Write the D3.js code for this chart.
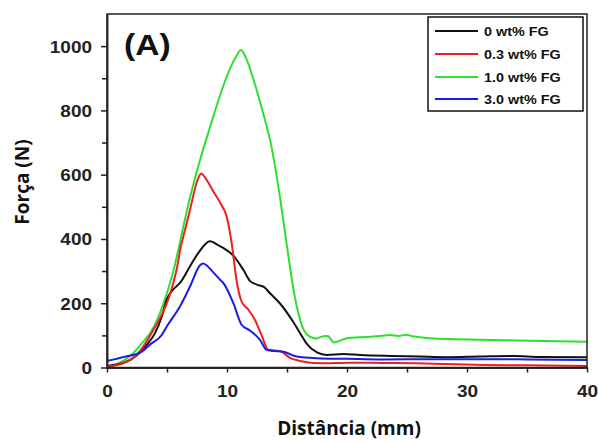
<!DOCTYPE html>
<html>
<head>
<meta charset="utf-8">
<script src="https://cdn.jsdelivr.net/npm/d3@7"></script>
<style>
  html, body { margin: 0; padding: 0; background: #fff; }
  svg { display: block; }
</style>
</head>
<body>
<svg id="chart" width="598" height="442"></svg>
<script>
// Force (N) vs. distance (mm) for four FG loadings
const seriesNames = ["0 wt% FG", "0.3 wt% FG", "1.0 wt% FG", "3.0 wt% FG"];
const seriesColors = ["#111111", "#f01e1e", "#2ee02e", "#1c1ce6"];

const fg0 = [[0,5],[1.3,13],[2.5,38],[3.3,70],[4.0,107],[4.56,158],[4.97,211],[5.5,242],[6.08,263],[6.92,315],[7.6,356],[8.58,393],[9.3,380],[9.69,372],[10.53,348],[11.36,304],[11.95,268],[12.5,258],[13.1,250],[13.58,231],[14.4,200],[15.5,143],[16.2,100],[16.6,76],[17.5,47],[18.3,39],[19.7,42],[21.1,39],[23.6,36],[26,34],[28.3,32],[31,34],[33.9,36],[36,33],[40,32]];
const fg03 = [[0,3],[1.3,13],[2.5,40],[3.2,75],[3.86,117],[4.5,160],[5.1,211],[5.5,260],[5.86,315],[6.1,367],[6.44,419],[6.92,491],[7.47,575],[7.85,604],[8.1,595],[8.86,548],[9.55,505],[9.97,470],[10.39,387],[10.8,270],[11.22,205],[11.78,180],[12.33,148],[12.89,100],[13.44,55],[14.0,53],[14.5,50],[15.25,30],[16.1,20],[17.75,13],[20.25,15],[23,14],[25.8,13],[28,11],[31.4,8],[35,7],[40,5]];
const fg10 = [[0,3],[1,14],[2,38],[3,80],[3.6,107],[4.2,150],[4.8,210],[5.6,310],[6.2,410],[6.7,495],[7.2,570],[7.75,645],[8.6,750],[9.4,845],[10.25,930],[10.8,970],[11.15,988],[11.6,962],[12.2,897],[13.0,793],[13.7,689],[14.4,533],[15.0,377],[15.6,230],[16.3,125],[16.9,96],[17.4,90],[18.0,97],[18.4,98],[18.9,78],[19.3,82],[20.0,91],[21.1,94],[22.5,97],[23.6,101],[24.3,98],[24.9,102],[25.5,97],[26.9,91],[29,88],[31.1,86],[33,85],[35.25,83],[37.5,82],[40,80]];
const fg30 = [[0,20],[0.67,26],[1.78,36],[2.2,39],[2.89,49],[3.6,72],[4.56,101],[4.97,127],[6.08,190],[6.92,252],[7.75,318],[8.0,324],[8.86,296],[9.5,270],[9.69,263],[10.53,200],[11.22,133],[11.92,115],[12.75,86],[13.3,55],[14.0,51],[14.7,49],[15.8,34],[17.5,29],[20,27],[23,25],[27,26],[31.4,26],[35,25],[40,23]];
const seriesData = [fg0, fg03, fg10, fg30];

const xTicks = [0, 10, 20, 30, 40];
const xMinorTicks = [5, 15, 25, 35];
const yTicks = [0, 200, 400, 600, 800, 1000];
const yMinorTicks = [100, 300, 500, 700, 900];

const svg = d3.select("#chart");
const plotLeft = 107, plotRight = 587, plotTop = 14, plotBottom = 367.5;

const x = d3.scaleLinear().domain([0, 40]).range([plotLeft, plotRight]);
const y = d3.scaleLinear().domain([0, 1100]).range([plotBottom, plotTop]);

svg.append("rect").attr("width", 598).attr("height", 442).attr("fill", "#fff");

// curves
const line = d3.line()
  .x(d => x(d[0]))
  .y(d => y(d[1]))
  .curve(d3.curveMonotoneX);

const order = [2, 0, 1, 3];
order.forEach(i => {
  svg.append("path")
    .datum(seriesData[i])
    .attr("fill", "none")
    .attr("stroke", seriesColors[i])
    .attr("stroke-width", 2)
    .attr("stroke-linejoin", "round")
    .attr("d", line);
});

// frame
svg.append("rect")
  .attr("x", plotLeft).attr("y", plotTop)
  .attr("width", plotRight - plotLeft).attr("height", plotBottom - plotTop)
  .attr("fill", "none").attr("stroke", "#222").attr("stroke-width", 1.5);

const tickFont = "'Liberation Sans', Arial, sans-serif";

// x axis
const gx = svg.append("g").attr("transform", `translate(0,${plotBottom})`);
gx.call(d3.axisBottom(x).tickValues(xTicks).tickSize(5).tickSizeOuter(0).tickFormat(d3.format("d")));
gx.append("g").call(d3.axisBottom(x).tickValues(xMinorTicks).tickSize(5).tickSizeOuter(0).tickFormat(""));
gx.selectAll(".domain").attr("stroke", "#222").attr("stroke-width", 1.5);
gx.selectAll(".tick line").attr("stroke", "#222").attr("stroke-width", 1.5);
gx.selectAll(".tick text")
  .attr("y", null).attr("dy", null)
  .attr("transform", "translate(0,29) scale(1.12,1)")
  .attr("fill", "#222")
  .style("font-family", tickFont).style("font-weight", "bold").style("font-size", "17px");

// y axis
const gy = svg.append("g").attr("transform", `translate(${plotLeft},0)`);
gy.call(d3.axisLeft(y).tickValues(yTicks).tickSize(6).tickSizeOuter(0).tickFormat(d3.format("d")));
gy.append("g").call(d3.axisLeft(y).tickValues(yMinorTicks).tickSize(5).tickSizeOuter(0).tickFormat(""));
gy.selectAll(".domain").attr("stroke", "#222").attr("stroke-width", 1.5);
gy.selectAll(".tick line").attr("stroke", "#222").attr("stroke-width", 1.5);
gy.selectAll(".tick text")
  .attr("x", null).attr("dy", null)
  .attr("transform", "translate(-15,6) scale(1.15,1)")
  .attr("fill", "#222")
  .style("font-family", tickFont).style("font-weight", "bold").style("font-size", "16.5px");

// axis titles
const titleFont = "'Open Sans', sans-serif";
svg.append("text")
  .attr("transform", "translate(29,182) rotate(-90)")
  .attr("text-anchor", "middle")
  .attr("fill", "#111")
  .style("font-family", titleFont).style("font-weight", "bold").style("font-size", "19px")
  .text("Força (N)");

svg.append("text")
  .attr("x", 349).attr("y", 435)
  .attr("text-anchor", "middle")
  .attr("fill", "#111")
  .style("font-family", titleFont).style("font-weight", "bold").style("font-size", "19px")
  .text("Distância (mm)");

// panel letter
svg.append("text")
  .attr("transform", "translate(124,55) scale(1.12,1)")
  .attr("fill", "#111")
  .style("font-family", tickFont).style("font-weight", "bold").style("font-size", "30px")
  .text("(A)");

// legend
const lg = svg.append("g");
lg.append("rect")
  .attr("x", 428).attr("y", 17).attr("width", 155).attr("height", 94)
  .attr("fill", "#fff").attr("stroke", "#111").attr("stroke-width", 1.5);
const rowY = [31, 54, 77, 99];
seriesNames.forEach((name, i) => {
  lg.append("line")
    .attr("x1", 435).attr("x2", 478)
    .attr("y1", rowY[i]).attr("y2", rowY[i])
    .attr("stroke", seriesColors[i]).attr("stroke-width", 2);
  lg.append("text")
    .attr("transform", `translate(484,${rowY[i] + 4.5}) scale(1.2,1)`)
    .attr("fill", "#111")
    .style("font-family", tickFont).style("font-weight", "bold").style("font-size", "12px")
    .text(name);
});
</script>
</body>
</html>
